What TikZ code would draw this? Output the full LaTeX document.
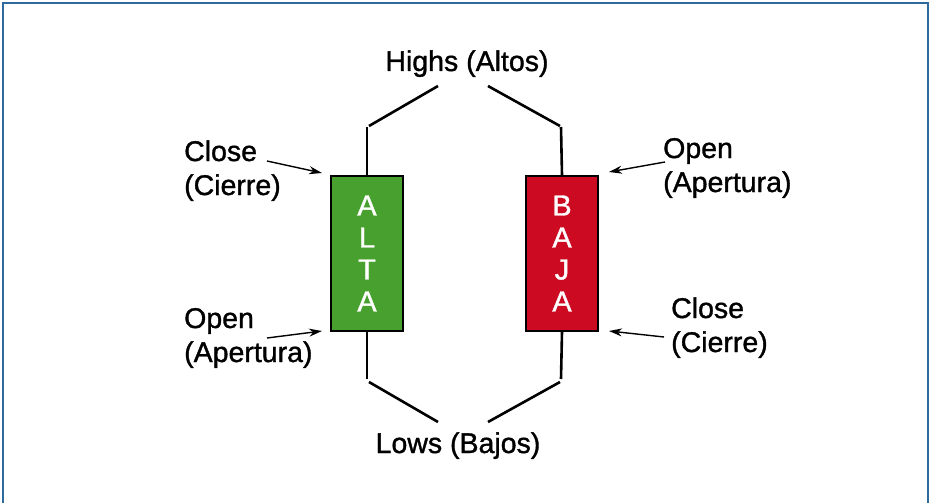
\documentclass[tikz,border=0pt]{standalone}
\usepackage{fontspec}
\setmainfont{Liberation Sans}
\newfontfamily\lblfont[FakeBold=1.2]{Liberation Sans}
\usetikzlibrary{arrows.meta}
\definecolor{framecol}{HTML}{2E6A9C}
\definecolor{upgreen}{HTML}{48A02E}
\definecolor{downred}{HTML}{CC0A22}
\tikzset{
  candle/.style={draw=black, line width=2pt, minimum width=72pt, minimum height=155pt,
    inner sep=0pt, text=white, align=center, font=\lblfont\fontsize{29}{32}\selectfont},
  wick/.style={line width=2.6pt, black},
  lbl/.style={font=\lblfont\fontsize{28.5}{34}\selectfont, align=left, inner sep=0pt, text=black},
  ptr/.style={line width=1.4pt, -{Stealth[length=13pt,width=8pt]}}
}
\begin{document}
\begin{tikzpicture}[x=1pt,y=-1pt]
  \useasboundingbox (0,0) rectangle (930,503);
  \draw[framecol, line width=2.2pt] (3,520) -- (3,3) -- (928,3) -- (928,520);

  % candle bodies
  \node[candle, fill=upgreen] (alta) at (367,253.5) {A\\L\\T\\A};
  \node[candle, fill=downred] (baja) at (562,253.5) {B\\A\\J\\A};

  % wick ends
  \coordinate (altaTop) at (367,127);
  \coordinate (altaBot) at (367,379);
  \coordinate (bajaTop) at (561,127);
  \coordinate (bajaBot) at (561,379);
  \draw[wick] (alta.north) -- (altaTop);
  \draw[wick] (alta.south) -- (altaBot);
  \draw[wick] (baja.north) -- (bajaTop);
  \draw[wick] (baja.south) -- (bajaBot);

  % highs and lows
  \node[lbl, anchor=base] (highs) at (467,71) {Highs (Altos)};
  \node[lbl, anchor=base] (lows) at (458,453) {Lows (Bajos)};
  \coordinate (hL1) at (369,126); \coordinate (hL2) at (438,86);
  \coordinate (hR1) at (488,86);  \coordinate (hR2) at (560,126);
  \coordinate (lL1) at (369,382); \coordinate (lL2) at (438,422);
  \coordinate (lR1) at (488,422); \coordinate (lR2) at (560,382);
  \draw[wick] (hL1) -- (hL2);
  \draw[wick] (hR1) -- (hR2);
  \draw[wick] (lL1) -- (lL2);
  \draw[wick] (lR1) -- (lR2);

  % side labels (anchored at the baseline of the second line)
  \node[lbl, anchor=base west] (closeL) at (184,195) {Close\\(Cierre)};
  \node[lbl, anchor=base west] (openL) at (184,362) {Open\\(Apertura)};
  \node[lbl, anchor=base west] (openR) at (663,192) {Open\\(Apertura)};
  \node[lbl, anchor=base west] (closeR) at (671,352) {Close\\(Cierre)};

  % pointers
  \coordinate (pCL) at (267,161);
  \coordinate (pOL) at (267,338);
  \coordinate (pOR) at (665,162);
  \coordinate (pCR) at (664,337);
  \draw[ptr] (pCL) -- ([xshift=-8pt,yshift=2pt]alta.north west);
  \draw[ptr] (pOL) -- ([xshift=-8pt,yshift=1pt]alta.south west);
  \draw[ptr] (pOR) -- ([xshift=10pt,yshift=3pt]baja.north east);
  \draw[ptr] (pCR) -- ([xshift=10pt,yshift=1pt]baja.south east);
\end{tikzpicture}
\end{document}
